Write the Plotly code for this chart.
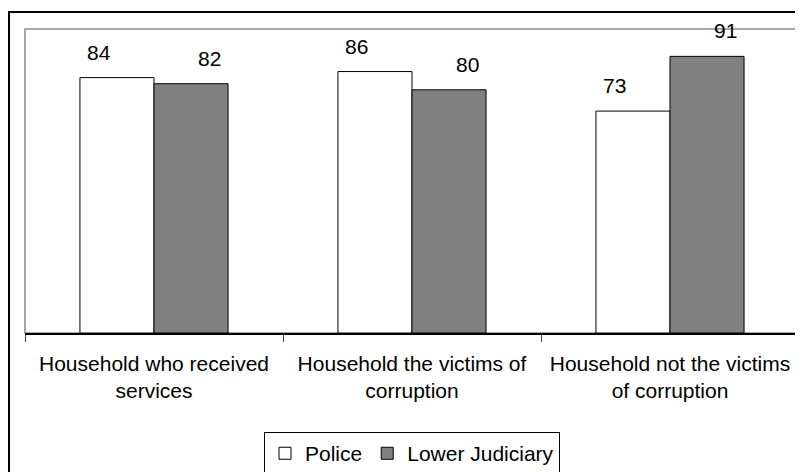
import plotly.graph_objects as go

categories = ["Household who received<br>services",
              "Household the victims of<br>corruption",
              "Household not the victims<br>of corruption"]
police = [84, 86, 73]
judiciary = [82, 80, 91]
series_names = ["Police", "Lower Judiciary"]

FONT = "Arial, Liberation Sans, sans-serif"
OFF = 8  # page body margin
W, H = 803 - OFF, 472 - OFF
L, R, T, B = 25 - OFF, 4, 29 - OFF, 139
pw = W - L - R
ph = H - T - B
ybot = T + ph  # figure px of axis line

fig = go.Figure()
fig.add_trace(go.Bar(name=series_names[0], x=categories, y=police,
                     marker=dict(color="white", line=dict(color="black", width=1))))
fig.add_trace(go.Bar(name=series_names[1], x=categories, y=judiciary,
                     marker=dict(color="#808080", line=dict(color="black", width=1))))

annotations = []
for vals, off in [(police, -0.215), (judiciary, 0.215)]:
    for j, v in enumerate(vals):
        annotations.append(dict(x=j + off, y=v, xref="x", yref="y", text=str(v),
                                showarrow=False, yanchor="bottom", yshift=12,
                                font=dict(family=FONT, size=21, color="black")))

shapes = [
    dict(type="rect", xref="paper", yref="paper", x0=0, y0=0, x1=1, y1=1,
         line=dict(color="#8c8c8c", width=1.5), layer="below"),
    dict(type="rect", xref="paper", yref="paper",
         x0=(9 - OFF - L) / pw, x1=(W + 10 - L) / pw,
         y0=-(H + 10 - ybot) / ph, y1=(ybot - (12 - OFF)) / ph,
         line=dict(color="black", width=2)),
]

fig.update_layout(
    width=W, height=H,
    margin=dict(l=L, r=R, t=T, b=B, autoexpand=False),
    paper_bgcolor="white", plot_bgcolor="white",
    barmode="group", bargap=0.426, bargroupgap=0,
    font=dict(family=FONT, size=21, color="black"),
    showlegend=True,
    legend=dict(orientation="h", x=0.5, xanchor="center", y=-0.326, yanchor="top",
                bordercolor="black", borderwidth=1, bgcolor="white",
                font=dict(family=FONT, size=21), itemwidth=30,
                traceorder="normal"),
    annotations=annotations,
    shapes=shapes,
)
fig.update_xaxes(showline=True, linecolor="black", linewidth=1.5,
                 ticks="outside", tickson="boundaries", ticklen=7, tickcolor="#444",
                 ticklabelstandoff=11,
                 showgrid=False, tickfont=dict(family=FONT, size=21, color="black"))
fig.update_yaxes(range=[0, 100], showticklabels=False, showgrid=False,
                 zeroline=False, ticks="")

fig.write_html("out.html")
